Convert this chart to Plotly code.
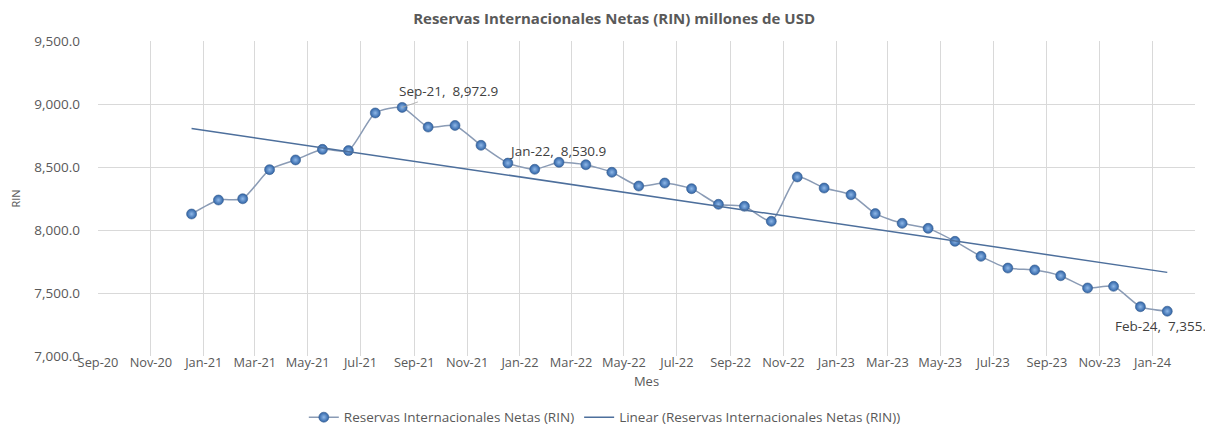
import numpy as np
import pandas as pd
import plotly.graph_objects as go

# ---- data ----
months = pd.date_range("2021-01-01", "2024-02-01", freq="MS")
rin = [8127, 8238, 8248, 8479, 8556, 8640, 8630, 8929, 8972.9, 8817, 8830, 8672,
       8530.9, 8482, 8537, 8518, 8458, 8349, 8373, 8328, 8204, 8188, 8069, 8421,
       8333, 8280, 8130, 8053, 8013, 7910, 7791, 7698, 7683, 7637, 7540, 7553,
       7391, 7355.5]
series_name = "Reservas Internacionales Netas (RIN)"
trend_name = "Linear (Reservas Internacionales Netas (RIN))"
labelled = {"2021-09-01": "Sep-21,  8,972.9",
            "2022-01-01": "Jan-22,  8,530.9",
            "2024-02-01": "Feb-24,  7,355.5"}

# linear trend (ordinary least squares on date serials)
xnum = (months - months[0]).days.values.astype(float)
coef = np.polyfit(xnum, np.array(rin, dtype=float), 1)
trend = np.polyval(coef, xnum)

gray = "#595959"
font_family = "Open Sans"

fig = go.Figure()
fig.add_trace(go.Scatter(
    x=months, y=rin, mode="lines+markers", name=series_name,
    line=dict(color="#8a9bb5", width=1.5, shape="spline", smoothing=0.6),
    marker=dict(size=10, color="#2f63a6", symbol="circle",
                gradient=dict(type="radial", color="#8fb8e8"),
                line=dict(color="#3a5f8f", width=0.6)),
))
fig.add_trace(go.Scatter(
    x=months, y=trend, mode="lines", name=trend_name,
    line=dict(color="#4d6f9c", width=1.5),
))

# data labels
d = dict(zip([m.strftime("%Y-%m-%d") for m in months], rin))
lab_font = dict(size=13.5, color="#404040", family=font_family)
fig.add_annotation(x="2021-09-01", y=d["2021-09-01"], text=labelled["2021-09-01"],
                   showarrow=True, arrowhead=0, arrowwidth=0.8, arrowcolor="#a6a6a6",
                   ax=46, ay=-16, font=lab_font)
fig.add_annotation(x="2022-01-01", y=d["2022-01-01"], text=labelled["2022-01-01"],
                   showarrow=False, xshift=50, yshift=12, font=lab_font)
fig.add_annotation(x="2024-02-01", y=d["2024-02-01"], text=labelled["2024-02-01"],
                   showarrow=False, xanchor="left", xshift=-54, yshift=-15, font=lab_font)

fig.update_layout(
    width=1205, height=421,
    margin=dict(l=90, r=18, t=33, b=73, autoexpand=False),
    paper_bgcolor="white", plot_bgcolor="white",
    font=dict(family=font_family, color=gray, size=11),
    title=dict(text="<b>Reservas Internacionales Netas (RIN) millones de USD</b>",
               x=0.503, xanchor="center", y=0.988, yanchor="top",
               font=dict(size=15, color=gray, family=font_family)),
    showlegend=True,
    legend=dict(orientation="h", x=0.462, xanchor="center", y=-0.195, yanchor="middle",
                font=dict(size=13.5, color=gray), tracegroupgap=0),
)
fig.update_xaxes(
    type="date", range=["2020-09-15", "2024-03-04"],
    tick0="2020-09-15", dtick="M2", tickformat="%b-%y",
    showgrid=True, gridcolor="#d9d9d9", gridwidth=1,
    zeroline=False, showline=False, ticks="", automargin=False,
    tickfont=dict(size=12.8, color=gray), ticklabelstandoff=-3,
    title=dict(text="Mes", font=dict(size=13, color=gray), standoff=7),
)
fig.update_yaxes(
    range=[7000, 9500], dtick=500, tickformat=",.1f",
    showgrid=True, gridcolor="#d9d9d9", gridwidth=1,
    zeroline=False, showline=False, ticks="", automargin=False,
    tickfont=dict(size=13.5, color=gray), ticklabelstandoff=17,
    title=dict(text="RIN", font=dict(size=11, color=gray), standoff=20),
)

fig.write_html("out.html")
